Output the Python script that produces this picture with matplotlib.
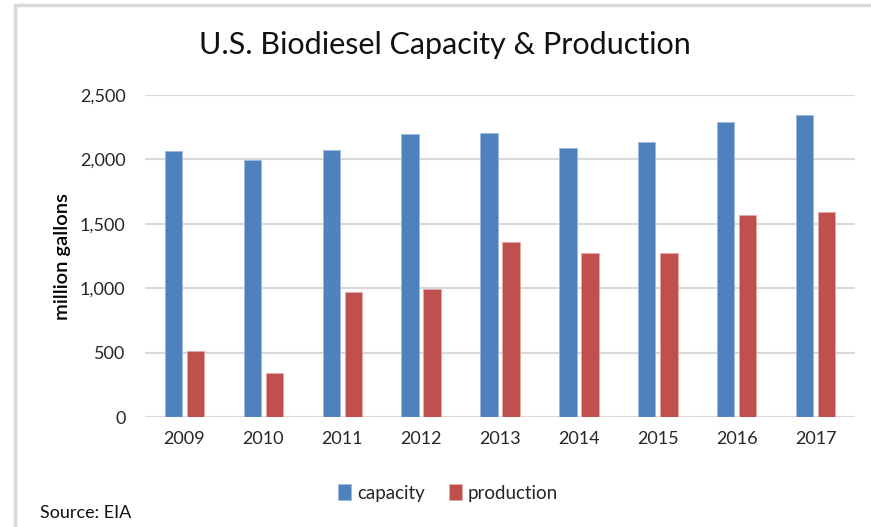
import matplotlib.pyplot as plt
import numpy as np
from matplotlib.patches import Rectangle
from matplotlib.ticker import FuncFormatter

# data (million gallons)
years = ['2009', '2010', '2011', '2012', '2013', '2014', '2015', '2016', '2017']
capacity = [2063, 1994, 2074, 2200, 2208, 2092, 2138, 2291, 2348]
production = [509, 341, 971, 992, 1361, 1271, 1271, 1568, 1594]

plt.rcParams['font.family'] = ['Lato', 'DejaVu Sans']

fig = plt.figure(figsize=(8.71, 5.27), dpi=100)
ax = fig.add_axes([145 / 871, 1 - 417 / 527, 710 / 871, 322 / 527])

x = np.arange(len(years))
w = 0.22
ax.bar(x - 0.14, capacity, w, color='#4F81BD', edgecolor='#9DB9E0', linewidth=0.6, label='capacity', zorder=3)
ax.bar(x + 0.14, production, w, color='#C0504D', edgecolor='#E5A9A7', linewidth=0.6, label='production', zorder=3)

ax.set_xlim(-0.5, len(years) - 0.5)
ax.set_ylim(0, 2500)
ax.set_yticks(range(0, 2501, 500))
ax.yaxis.set_major_formatter(FuncFormatter(lambda v, p: f'{int(v):,}'))
ax.set_xticks(x)
ax.set_xticklabels(years)
ax.grid(axis='y', color='#D9D9D9', linewidth=1.5, zorder=0)
for s in ax.spines.values():
    s.set_visible(False)
ax.tick_params(length=0, labelsize=13, colors='#262626', pad=10)
ax.tick_params(axis='y', pad=14)

ax.set_ylabel('million gallons', fontsize=14.5, color='black', fontweight='semibold', labelpad=6)

fig.text(445 / 871, 1 - 45 / 527, 'U.S. Biodiesel Capacity & Production', ha='center', va='center',
         fontsize=22, color='#111111')

leg = fig.legend(loc='center', bbox_to_anchor=(448 / 871, 1 - 493 / 527), ncol=2, frameon=False,
                 fontsize=13.5, handlelength=0.7, handleheight=0.9, handletextpad=0.3, columnspacing=1.3)
for t in leg.get_texts():
    t.set_color('#262626')

fig.text(40 / 871, 1 - 513 / 527, 'Source: EIA', ha='left', va='center', fontsize=13, color='#111111')

# light frame around the chart
fig.patches.append(Rectangle((15 / 871, -0.02), 1.0, 1 - 5 / 527 + 0.02, transform=fig.transFigure,
                             fill=False, edgecolor='#D9D9D9', linewidth=2.5))

fig.savefig('out.png', dpi=100)
